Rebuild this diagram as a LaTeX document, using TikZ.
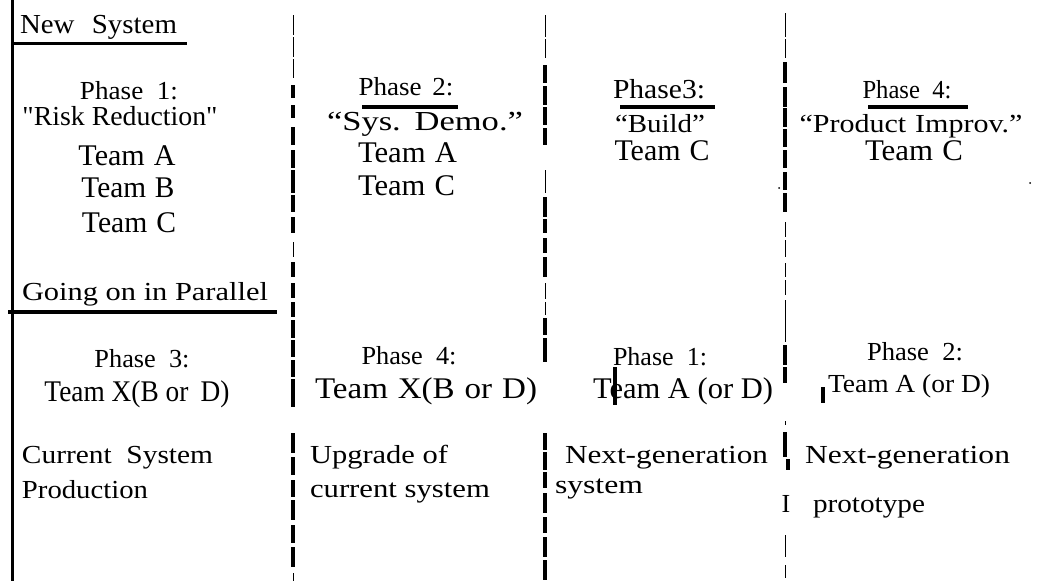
\documentclass[tikz,border=0pt]{standalone}
\usepackage{fontspec}
\setmainfont{Liberation Serif}
\newfontfamily\rawserif{Liberation Serif}
\usepackage{graphicx}
\newcommand{\fw}[2]{\resizebox{#1pt}{\height}{#2}}
\tikzset{
  lbl/.style={inner sep=0pt, outer sep=0pt, anchor=base, font=\fontsize{26}{30}\selectfont},
  lblw/.style={lbl, anchor=base west},
  mid/.style={font=\fontsize{27.5}{32}\selectfont},
  big/.style={font=\fontsize{30}{34}\selectfont},
  rulebar/.style={line width=3.5pt},
  thickseg/.style={line width=4pt},
  thinseg/.style={line width=1pt},
}
\begin{document}
\begin{tikzpicture}[x=1pt,y=-1pt]
\useasboundingbox (0,0) rectangle (1053,581);
\fill[white] (0,0) rectangle (1053,581);
% left solid border
\draw[line width=3pt] (12,0) -- (12,581);
% column separators (broken dashed lines)
\foreach \a/\b in {15/35,37/57,59/78,242/257,573/581}
  \draw[thinseg] (293,\a) -- (293,\b);
\foreach \a/\b in {85/98,105/118,127/145,150/168,170/193,195/212,217/233,262/277,283/298,302/317,320/338,340/357,360/377,379/407,433/453,457/475,480/497,500/520,525/543,547/567}
  \draw[thickseg] (293,\a) -- (293,\b);
\foreach \a/\b in {15/37,39/58,170/193,283/299,302/315}
  \draw[thinseg] (545,\a) -- (545,\b);
\foreach \a/\b in {65/83,86/105,107/125,128/145,197/217,219/233,238/253,257/277,318/335,338/362,433/450,452/470,472/488,493/513,517/533,537/557,560/580}
  \draw[thickseg] (545,\a) -- (545,\b);
\foreach \a/\b in {13/37,39/58,222/237,240/257,263/277,280/295,300/342,421/425,535/557,565/578}
  \draw[thinseg] (785,\a) -- (785,\b);
\foreach \a/\b in {62/83,87/107,108/127,129/147,150/168,172/190,193/212,345/365,367/383,432/457}
  \draw[thickseg] (785,\a) -- (785,\b);
\draw[thickseg] (788,459) -- (788,470);
% stray marks
\draw[thickseg] (615,367) -- (615,405);
\draw[thickseg] (823,387) -- (823,403);
\fill (779,188) circle (1pt);
\fill (1030,183) circle (1pt);
% header rules
\draw[line width=3pt] (12,43) -- (187,43);
\draw[line width=4pt] (8,312) -- (277,312);
% phase underlines
\draw[rulebar] (362,107) -- (458,107);
\draw[rulebar] (620,107) -- (715,107);
\draw[rulebar] (868,107) -- (968,107);
% column 1
\node[lblw,mid] (newsys) at (20,33) {\fw{157}{New\hspace{0.6em}System}};
\node[lbl] (p1) at (129,99) {\fw{98}{Phase\hspace{0.5em}1:}};
\node[lbl,mid] (risk) at (120,125) {\fw{195}{\rawserif "Risk Reduction"}};
\node[lbl,big] (ta1) at (127,165) {\fw{97}{Team\hspace{0.3em}A}};
\node[lbl,big] (tb1) at (128,197) {\fw{93}{Team\hspace{0.3em}B}};
\node[lbl,big] (tc1) at (129,232) {\fw{94}{Team\hspace{0.3em}C}};
\node[lblw] (going) at (22,300) {\fw{246}{Going on in Parallel}};
\node[lbl] (p3a) at (142,367) {\fw{95}{Phase\hspace{0.5em}3:}};
\node[lbl,big] (tx1) at (137,401) {\fw{185}{Team X(B or\hspace{0.2em} D)}};
\node[lblw] (cur) at (22,463) {\fw{191}{Current\hspace{0.5em}System}};
\node[lblw] (prod) at (22,498) {\fw{126}{Production}};
% column 2
\node[lbl] (p2) at (406,95) {\fw{95}{Phase\hspace{0.4em}2:}};
\node[lbl,mid] (demo) at (425,130) {\fw{196}{“Sys.\hspace{0.4em}Demo.”}};
\node[lblw,big] (ta2) at (358,162) {\fw{99}{Team\hspace{0.3em}A}};
\node[lblw,big] (tc2) at (358,195) {\fw{97}{Team\hspace{0.3em}C}};
\node[lbl] (p4a) at (409,364) {\fw{95}{Phase\hspace{0.5em}4:}};
\node[lbl,big] (tx2) at (426,398) {\fw{222}{Team\hspace{0.3em}X(B\hspace{0.3em}or\hspace{0.3em}D)}};
\node[lblw] (upg) at (310,463) {\fw{138}{Upgrade of}};
\node[lblw] (curs) at (310,497) {\fw{180}{current system}};
% column 3
\node[lbl,mid] (p3b) at (659,98) {\fw{92}{Phase3:}};
\node[lbl] (build) at (660,132) {\fw{90}{“Build”}};
\node[lbl,big] (tc3) at (662,160) {\fw{95}{Team\hspace{0.3em}C}};
\node[lbl] (p1b) at (660,365) {\fw{94}{Phase\hspace{0.5em}1:}};
\node[lbl,big] (tad1) at (683,398) {\fw{180}{Team A (or D)}};
\node[lblw] (ng1) at (565,463) {\fw{203}{Next-generation}};
\node[lblw] (sys3) at (555,493) {\fw{88}{system}};
% column 4
\node[lbl] (p4b) at (907,98) {\fw{89}{Phase\hspace{0.5em}4:}};
\node[lbl] (impr) at (911,132) {\fw{223}{“Product\hspace{0.3em}Improv.”}};
\node[lbl,big] (tc4) at (914,160) {\fw{98}{Team\hspace{0.3em}C}};
\node[lbl] (p2b) at (915,360) {\fw{96}{Phase\hspace{0.5em}2:}};
\node[lbl] (tad2) at (909,392) {\fw{162}{Team A (or D)}};
\node[lblw] (ng2) at (805,463) {\fw{205}{Next-generation}};
\node[lblw] (proto) at (813,512) {\fw{112}{prototype}};
\node[lbl] (bar) at (786,512) {I};
\end{tikzpicture}
\end{document}
